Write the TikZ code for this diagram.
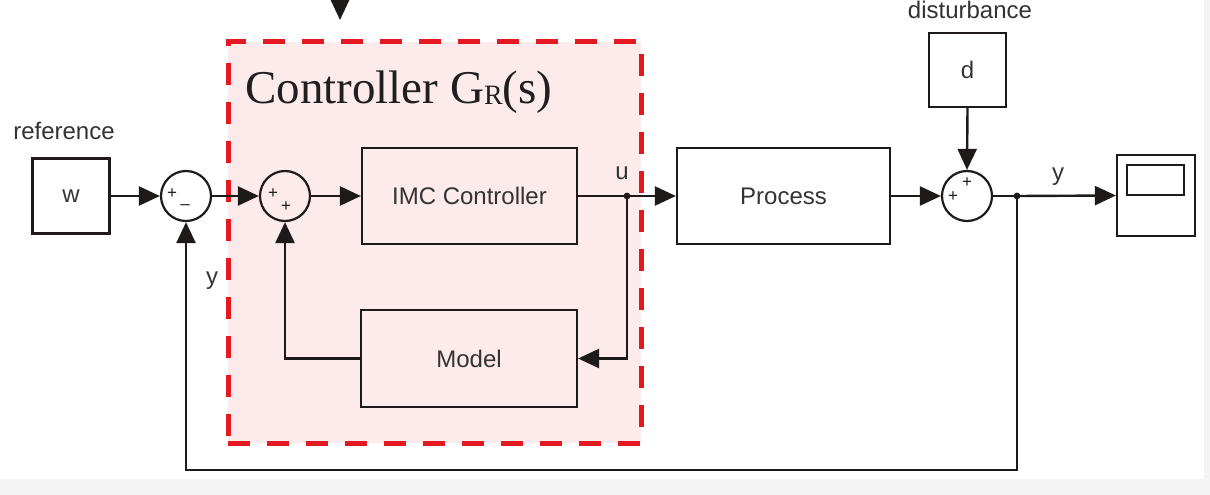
\documentclass[tikz,border=0pt]{standalone}
\usepackage{fontspec}
\setmainfont{Liberation Serif}
\setsansfont{Liberation Sans}
\usetikzlibrary{arrows.meta}
\definecolor{ink}{HTML}{1E1A1A}
\definecolor{txt}{HTML}{333333}
\definecolor{ctrlfill}{HTML}{FDEBEB}
\definecolor{ctrlred}{HTML}{E31820}
\definecolor{band}{HTML}{F3F3F3}
\begin{document}
\begin{tikzpicture}[x=1pt,y=-1pt,
  blk/.style={draw=ink,line width=2.2pt,rectangle,inner sep=0pt,
    font=\sffamily\fontsize{24}{28}\selectfont,text=txt},
  sumc/.style={draw=ink,line width=2.2pt,circle,minimum size=50pt,inner sep=0pt},
  sig/.style={draw=ink,line width=2.4pt,-{Triangle[length=21pt,width=19pt]}},
  wire/.style={draw=ink,line width=2.4pt},
  lbl/.style={font=\sffamily\fontsize{24}{28}\selectfont,text=txt,inner sep=0pt},
  pm/.style={font=\sffamily\fontsize{17}{17}\selectfont,text=ink,inner sep=0pt}]
\path[use as bounding box] (0,0) rectangle (1210,495);
\fill[band] (0,479) rectangle (1210,495);
\fill[band] (1204,0) rectangle (1210,479);
% controller region
\node[draw=ctrlred,line width=5pt,dash pattern=on 22pt off 17pt,fill=ctrlfill,
  minimum width=413pt,minimum height=401pt,inner sep=0pt] (ctrl) at (434.5,242.5) {};
\node[anchor=base west,inner sep=0pt,text=black!88] (title) at (245,103)
  {\fontsize{47}{52}\selectfont Controller G\raisebox{-1pt}{\fontsize{28}{30}\selectfont R}(s)};
% blocks
\node[blk,minimum width=77pt,minimum height=75pt] (w) at (71,196) {w};
\node[lbl] (ref) at (64,131) {reference};
\node[sumc] (s1) at (186,196) {};
\node[sumc] (s2) at (285,196) {};
\node[blk,minimum width=215pt,minimum height=96pt] (imc) at (469.5,196) {IMC Controller};
\node[blk,minimum width=216pt,minimum height=97pt] (model) at (469,358.5) {Model};
\node[blk,minimum width=213pt,minimum height=96pt] (proc) at (783.5,196) {Process};
\node[sumc] (s3) at (967,196) {};
\node[blk,minimum width=77pt,minimum height=74pt] (d) at (967.5,70) {d};
\node[lbl,anchor=base] (dist) at (970,19) {disturbance};
\node[blk,minimum width=78pt,minimum height=81pt] (scope) at (1156,195.5) {};
\node[draw=ink,line width=2.2pt,minimum width=57pt,minimum height=30pt,inner sep=0pt] (screen) at (1155.5,180) {};
% signs
\node[pm] (p1a) at (172,194) {+};
\node[pm] (p1b) at (185,207) {--};
\node[pm] (p2a) at (273,194) {+};
\node[pm] (p2b) at (286,207) {+};
\node[pm] (p3a) at (953,197) {+};
\node[pm] (p3b) at (967,183) {+};
% labels
\node[lbl] (ulab) at (622,173) {u};
\node[lbl] (ylab) at (1058,177) {y};
\node[lbl] (ylab2) at (212,281) {y};
% junctions
\coordinate (ju) at (627,196);
\coordinate (jy) at (1017,196);
\coordinate (fb) at (1017,470);
\coordinate (topsrc) at (340,-30);
\coordinate (toptip) at (340,20);
% wires
\draw[sig] (topsrc) -- (toptip);
\draw[sig] (w.east) -- (s1.west);
\draw[sig] (s1.east) -- (s2.west);
\draw[sig] (s2.east) -- (imc.west);
\draw[wire] (imc.east) -- (ju);
\draw[sig] (ju) -- (proc.west);
\draw[sig] (ju) |- (model.east);
\draw[sig] (model.west) -| (s2.south);
\draw[sig] (proc.east) -- (s3.west);
\draw[sig] (d.south) -- (s3.north);
\draw[wire] (s3.east) -- (jy);
\draw[sig] (jy) -- (scope.west);
\draw[sig] (jy) -- (fb) -| (s1.south);
\fill[ink] (ju) circle (3.4pt);
\fill[ink] (jy) circle (3.4pt);
\end{tikzpicture}
\end{document}
